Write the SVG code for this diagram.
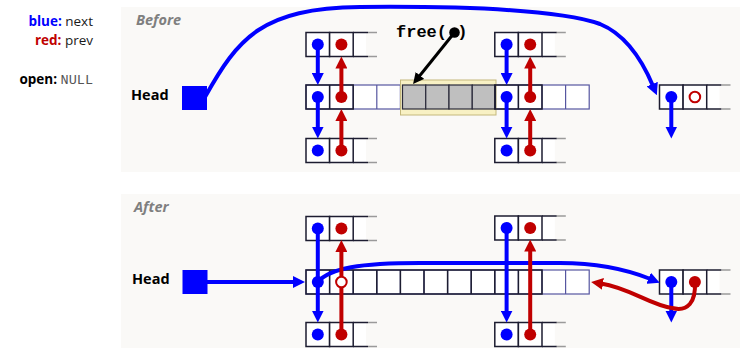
<svg xmlns="http://www.w3.org/2000/svg" width="740" height="348" viewBox="0 0 740 348">
<style>
  .panel{fill:#faf9f7}
  .title{font-family:"Open Sans",sans-serif;font-weight:bold;font-style:italic;font-size:14.5px;fill:#7f7f7f}
  .head{font-family:"Open Sans",sans-serif;font-weight:bold;font-size:14.5px;fill:#000}
  .leg{font-family:"Open Sans",sans-serif;font-size:13.5px;fill:#1a1a1a}
  .b{font-weight:bold}
  .mono{font-family:"Liberation Mono","Courier New",monospace}
  .cell{fill:#fff;stroke:#1c1c30;stroke-width:1.5}
  .dark{fill:none;stroke:#1c1c30;stroke-width:1.5}
  .strip{fill:#fff;stroke:#5656a0;stroke-width:1.2}
  .gray{fill:#bfbfbf;stroke:#2a2a3a;stroke-width:1.2}
  .nb{stroke:#0000ff;stroke-width:4;fill:none}
  .pr{stroke:#c00000;stroke-width:4;fill:none}
  .ptr{stroke:#000;stroke-width:3;fill:none}
  .dotb{fill:#0000ff}
  .dotr{fill:#c00000}
  .nul{fill:#fff;stroke:#c00000;stroke-width:2}
  .hsq{fill:#0000ff}
</style>
<defs>
  <marker id="ah-blue" markerUnits="userSpaceOnUse" markerWidth="12" markerHeight="12" refX="2" refY="6" orient="auto">
    <path d="M0,0 L12,6 L0,12 Z" fill="#0000ff"/>
  </marker>
  <marker id="ah-red" markerUnits="userSpaceOnUse" markerWidth="12" markerHeight="12" refX="2" refY="6" orient="auto">
    <path d="M0,0 L12,6 L0,12 Z" fill="#c00000"/>
  </marker>
  <marker id="ah-black" markerUnits="userSpaceOnUse" markerWidth="11" markerHeight="11" refX="2" refY="5.5" orient="auto">
    <path d="M0,0 L11,5.5 L0,11 Z" fill="#000"/>
  </marker>
  <!-- free-list block: two closed cells and an open-ended third cell -->
  <g id="blk">
    <rect x="0" y="0" width="60" height="24" fill="#fff"/>
    <rect class="cell" x="0" y="0" width="23.6" height="24"/>
    <rect class="cell" x="23.6" y="0" width="23.6" height="24"/>
    <path d="M47.2,0H62M47.2,24H62" stroke="#1c1c30" stroke-width="1.5"/>
    <path d="M62,0H71M62,24H71" stroke="#9a9a9a" stroke-width="1.5"/>
  </g>
  <!-- heap strip of 12 words -->
  <g id="strip">
    <rect class="strip" x="0" y="0" width="283.2" height="24"/>
    <path d="M23.6,0V24M47.2,0V24M70.8,0V24M94.4,0V24M118,0V24M141.6,0V24M165.2,0V24M188.8,0V24M212.4,0V24M236,0V24M259.6,0V24" stroke="#5656a0" stroke-width="1.2"/>
  </g>
</defs>

<!-- legend -->
<g id="legend">
  <text class="leg" x="93" y="26" text-anchor="end"><tspan class="b" fill="#0000ff">blue:</tspan> next</text>
  <text class="leg" x="93" y="45" text-anchor="end"><tspan class="b" fill="#c00000">red:</tspan> prev</text>
  <text class="leg" x="93" y="84" text-anchor="end"><tspan class="b" fill="#000">open:</tspan> <tspan class="mono" fill="#555">NULL</tspan></text>
</g>

<!-- ===== Before ===== -->
<g id="before">
  <rect class="panel" x="121" y="7" width="619" height="165"/>
  <text class="title" x="136" y="25">Before</text>

  <g id="before-head">
    <text class="head" x="131" y="100">Head</text>
    <rect class="hsq" x="182" y="86" width="25" height="24"/>
  </g>

  <g id="before-heap">
    <use href="#strip" x="306" y="85"/>
    <rect x="400.5" y="80" width="95.5" height="35" fill="#f8f1c4" stroke="#c4b87c" stroke-width="1"/>
    <rect class="gray" x="402.5" y="85" width="23.25" height="24"/>
    <rect class="gray" x="425.75" y="85" width="23.25" height="24"/>
    <rect class="gray" x="449" y="85" width="23.25" height="24"/>
    <rect class="gray" x="472.25" y="85" width="23.25" height="24"/>
    <rect class="dark" x="306" y="85" width="47.2" height="24"/>
    <path class="dark" d="M329.6,85V109"/>
    <rect class="dark" x="494.8" y="85" width="47.2" height="24"/>
    <path class="dark" d="M518.4,85V109"/>
  </g>

  <g id="before-left-top"><use href="#blk" x="306" y="32.5"/></g>
  <g id="before-left-bottom"><use href="#blk" x="306" y="138.5"/></g>
  <g id="before-right-top"><use href="#blk" x="494.8" y="32.5"/></g>
  <g id="before-right-bottom"><use href="#blk" x="494.8" y="138.5"/></g>
  <g id="before-far"><use href="#blk" x="659.5" y="85"/></g>

  <g id="before-free">
    <text class="mono" x="396" y="37" font-size="17" font-weight="bold" fill="#000">free( )</text>
    <circle cx="454.5" cy="32.5" r="5.3" fill="#000"/>
  </g>

  <g id="before-connectors">
    <path class="nb" d="M205,97 C238,38 262,8 360,7 C470,6 560,10 600,24 C622,33 640,55 653,86" marker-end="url(#ah-blue)"/>
    <path class="ptr" d="M454.5,32.5 L418.7,77" marker-end="url(#ah-black)"/>
    <!-- left column -->
    <path class="nb" d="M317.8,44.5V75" marker-end="url(#ah-blue)"/>
    <path class="pr" d="M341.4,97V66.5" marker-end="url(#ah-red)"/>
    <path class="nb" d="M317.8,97V128.5" marker-end="url(#ah-blue)"/>
    <path class="pr" d="M341.4,150.5V119" marker-end="url(#ah-red)"/>
    <!-- right column -->
    <path class="nb" d="M506.6,44.5V75" marker-end="url(#ah-blue)"/>
    <path class="pr" d="M530.2,97V66.5" marker-end="url(#ah-red)"/>
    <path class="nb" d="M506.6,97V128.5" marker-end="url(#ah-blue)"/>
    <path class="pr" d="M530.2,150.5V119" marker-end="url(#ah-red)"/>
    <!-- far block -->
    <path class="nb" d="M671.3,97V128.5" marker-end="url(#ah-blue)"/>
  </g>

  <g id="before-dots">
    <circle class="dotb" cx="317.8" cy="44.5" r="6"/>
    <circle class="dotr" cx="341.4" cy="44.5" r="6"/>
    <circle class="dotb" cx="317.8" cy="97" r="6"/>
    <circle class="dotr" cx="341.4" cy="97" r="6"/>
    <circle class="dotb" cx="317.8" cy="150.5" r="6"/>
    <circle class="dotr" cx="341.4" cy="150.5" r="6"/>
    <circle class="dotb" cx="506.6" cy="44.5" r="6"/>
    <circle class="dotr" cx="530.2" cy="44.5" r="6"/>
    <circle class="dotb" cx="506.6" cy="97" r="6"/>
    <circle class="dotr" cx="530.2" cy="97" r="6"/>
    <circle class="dotb" cx="506.6" cy="150.5" r="6"/>
    <circle class="dotr" cx="530.2" cy="150.5" r="6"/>
    <circle class="dotb" cx="671.3" cy="97" r="6"/>
    <circle class="nul" cx="694.9" cy="97" r="5.3"/>
  </g>
</g>

<!-- ===== After ===== -->
<g id="after">
  <rect class="panel" x="121" y="194" width="619" height="154"/>
  <text class="title" x="134" y="212">After</text>

  <g id="after-head">
    <text class="head" x="132" y="284">Head</text>
    <rect class="hsq" x="182.5" y="270" width="25" height="24"/>
  </g>

  <g id="after-heap">
    <use href="#strip" x="306" y="270"/>
    <rect class="dark" x="306" y="270" width="236" height="24"/>
    <path class="dark" d="M329.6,270V294M353.2,270V294M376.8,270V294M400.4,270V294M424,270V294M447.6,270V294M471.2,270V294M494.8,270V294M518.4,270V294"/>
  </g>

  <g id="after-left-top"><use href="#blk" x="306" y="216.5"/></g>
  <g id="after-left-bottom"><use href="#blk" x="306" y="322.5"/></g>
  <g id="after-right-top"><use href="#blk" x="494.8" y="216"/></g>
  <g id="after-right-bottom"><use href="#blk" x="494.8" y="322.5"/></g>
  <g id="after-far"><use href="#blk" x="659.5" y="270"/></g>

  <g id="after-connectors">
    <path class="nb" d="M207,282H295" marker-end="url(#ah-blue)"/>
    <path class="nb" d="M317.8,228.5V282"/>
    <path class="nb" d="M317.8,282V312.5" marker-end="url(#ah-blue)"/>
    <path class="nb" d="M317.8,282 C330,268 360,263 420,263 L560,263 C600,263 628,270 650.5,279" marker-end="url(#ah-blue)"/>
    <path class="pr" d="M341.4,334.5V250" marker-end="url(#ah-red)"/>
    <path class="nb" d="M506.6,228V312.5" marker-end="url(#ah-blue)"/>
    <path class="pr" d="M530.2,334.5V249.5" marker-end="url(#ah-red)"/>
    <path class="nb" d="M671.3,282V312.5" marker-end="url(#ah-blue)"/>
    <path class="pr" d="M694.9,282 C696,302 688,312 672,308 C650,305 630,288 601,283.5" marker-end="url(#ah-red)"/>
  </g>

  <g id="after-dots">
    <circle class="dotb" cx="317.8" cy="228.5" r="6"/>
    <circle class="dotr" cx="341.4" cy="228.5" r="6"/>
    <circle class="dotb" cx="317.8" cy="282" r="6"/>
    <circle class="nul" cx="341.4" cy="282" r="5.3"/>
    <circle class="dotb" cx="317.8" cy="334.5" r="6"/>
    <circle class="dotr" cx="341.4" cy="334.5" r="6"/>
    <circle class="dotb" cx="506.6" cy="228" r="6"/>
    <circle class="dotr" cx="530.2" cy="228" r="6"/>
    <circle class="dotb" cx="506.6" cy="334.5" r="6"/>
    <circle class="dotr" cx="530.2" cy="334.5" r="6"/>
    <circle class="dotb" cx="671.3" cy="282" r="6"/>
    <circle class="dotr" cx="694.9" cy="282" r="6"/>
  </g>
</g>
</svg>
